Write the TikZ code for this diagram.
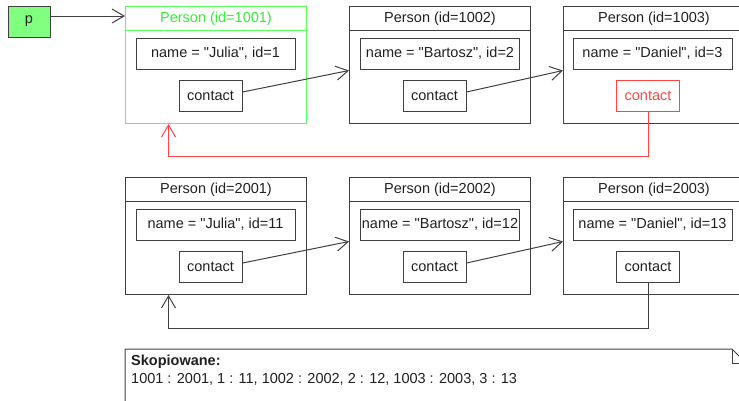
\documentclass[tikz,border=0pt]{standalone}
\usepackage{fontspec}
\setmainfont{Liberation Sans}
\usetikzlibrary{arrows.meta,calc}
\definecolor{ln}{HTML}{404040}
\definecolor{tx}{HTML}{202020}
\definecolor{gr}{HTML}{55FF55}
\definecolor{grt}{HTML}{33EE33}
\definecolor{rd}{HTML}{FF4444}
\definecolor{pfill}{HTML}{80FF80}
\newcommand{\dq}{\textquotedbl}
\begin{document}
\begin{tikzpicture}[x=1pt,y=-1pt,
  font=\fontsize{14.5}{17}\selectfont, text=tx,
  obj/.style={draw=ln, line width=1pt, anchor=north west, minimum width=181pt, minimum height=117pt, inner sep=0pt},
  fld/.style={draw=ln, line width=1pt, minimum height=31pt, inner sep=0pt},
  namefld/.style={fld, minimum width=159pt},
  contfld/.style={fld, minimum width=63pt},
  tip/.style={-{Straight Barb[length=12pt,width=14pt]}},
  conn/.style={draw=ln, line width=1pt, tip}]
\begin{scope}
\clip (0,0) rectangle (739,400);
% p
\node[draw=ln, fill=pfill, line width=1pt, minimum width=42pt, minimum height=31pt, inner sep=0pt] (p) at (29,21.5) {p};
% row 1
\node[obj, draw=gr] (p1) at (125,6) {};
\node[obj] (p2) at (349,6) {};
\node[obj] (p3) at (563,6) {};
\node[text=grt] (t1) at ($(p1.north)+(0,13)$) {Person (id=1001)};
\node (t2) at ($(p2.north)+(0,13)$) {Person (id=1002)};
\node (t3) at ($(p3.north)+(0,13)$) {Person (id=1003)};
\draw[gr, line width=1pt] ([yshift=-24pt]p1.north west) -- ([yshift=-24pt]p1.north east);
\draw[ln, line width=1pt] ([yshift=-24pt]p2.north west) -- ([yshift=-24pt]p2.north east);
\draw[ln, line width=1pt] ([yshift=-24pt]p3.north west) -- ([yshift=-24pt]p3.north east);
\node[namefld] (n1) at (215.5,53.5) {name = \dq Julia\dq, id=1};
\node[namefld] (n2) at (440,53.5) {name = \dq Bartosz\dq, id=2};
\node[namefld] (n3) at (652.5,53.5) {name = \dq Daniel\dq, id=3};
\node[contfld] (c1) at (210.5,96) {contact};
\node[contfld] (c2) at (434.5,96) {contact};
\node[contfld, draw=rd, text=rd] (c3) at (648,96) {contact};
% row 2
\node[obj] (p4) at (125,177) {};
\node[obj] (p5) at (349,177) {};
\node[obj] (p6) at (563,177) {};
\node (t4) at ($(p4.north)+(0,13)$) {Person (id=2001)};
\node (t5) at ($(p5.north)+(0,13)$) {Person (id=2002)};
\node (t6) at ($(p6.north)+(0,13)$) {Person (id=2003)};
\draw[ln, line width=1pt] ([yshift=-24pt]p4.north west) -- ([yshift=-24pt]p4.north east);
\draw[ln, line width=1pt] ([yshift=-24pt]p5.north west) -- ([yshift=-24pt]p5.north east);
\draw[ln, line width=1pt] ([yshift=-24pt]p6.north west) -- ([yshift=-24pt]p6.north east);
\node[namefld] (n4) at (215.5,224.5) {name = \dq Julia\dq, id=11};
\node[namefld] (n5) at (440,224.5) {name = \dq Bartosz\dq, id=12};
\node[namefld] (n6) at (652.5,224.5) {name = \dq Daniel\dq, id=13};
\node[contfld] (c4) at (210.5,267) {contact};
\node[contfld] (c5) at (434.5,267) {contact};
\node[contfld] (c6) at (648,267) {contact};
% connectors
\coordinate (pa) at ([yshift=5.5pt]p.east);
\draw[conn] (pa) -- (pa -| p1.west);
\draw[conn] ([yshift=4pt]c1.east) -- ([yshift=-5.5pt]p2.west);
\draw[conn] ([yshift=4pt]c2.east) -- ([yshift=-5.5pt]p3.west);
\draw[draw=rd, line width=1pt, tip] (c3.south) -- ++(0,44) -| ([xshift=-47.5pt]p1.south);
\draw[conn] ([yshift=4pt]c4.east) -- ([yshift=-5.5pt]p5.west);
\draw[conn] ([yshift=4pt]c5.east) -- ([yshift=-5.5pt]p6.west);
\draw[conn] (c6.south) -- ++(0,45) -| ([xshift=-47.5pt]p4.south);
% note
\draw[ln, line width=1pt] (125,349) -- (732,349) -- (746,363) -- (746,420) -- (125,420) -- cycle;
\draw[ln, line width=1pt] (732,349) -- (732,363) -- (746,363);
\node[anchor=north west, align=left, inner sep=0pt, font=\fontsize{14.5}{18}\selectfont] (nt) at (131,355) {\textbf{Skopiowane:}\\1001 : 2001, 1 : 11, 1002 : 2002, 2 : 12, 1003 : 2003, 3 : 13};
\end{scope}
\pgfresetboundingbox
\useasboundingbox (0,0) rectangle (739,400);
\end{tikzpicture}
\end{document}
